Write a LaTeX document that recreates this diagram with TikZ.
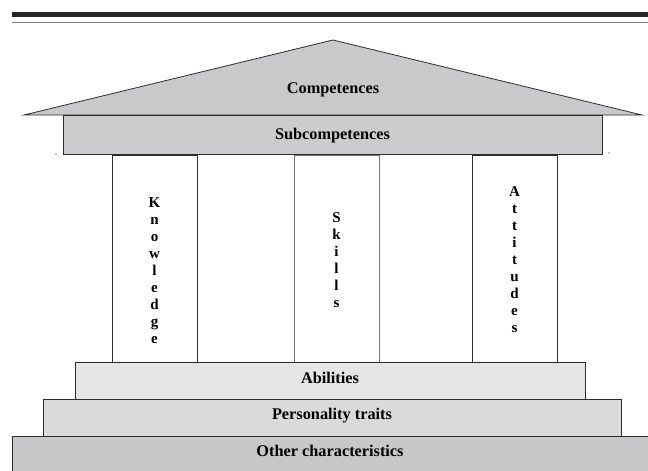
\documentclass[tikz,border=0pt]{standalone}
\usepackage{fontspec}
\setmainfont{Liberation Serif}
\usepackage{xcolor}
\usepackage{tikz}
\usetikzlibrary{positioning}

\definecolor{rooffill}{RGB}{201,201,203}
\definecolor{subfill}{RGB}{204,204,206}
\definecolor{abilfill}{RGB}{229,229,231}
\definecolor{persfill}{RGB}{218,218,220}
\definecolor{otherfill}{RGB}{200,200,203}
\definecolor{edge}{RGB}{45,45,45}

\begin{document}
\begin{tikzpicture}[
  x=1pt, y=-1pt,
  band/.style={rectangle, draw=edge, line width=0.9pt, inner sep=0pt},
  pillar/.style={rectangle, draw=edge, line width=0.8pt, fill=white,
    minimum width=85pt, minimum height=207pt, inner sep=0pt},
  lbl/.style={anchor=base, inner sep=0pt, font=\bfseries\fontsize{16.3}{18}\selectfont},
  letters/.style={anchor=north, align=center, inner sep=0pt,
    font=\bfseries\fontsize{15}{17}\selectfont}
]
\useasboundingbox (0,0) rectangle (648,471);

% rules at the top
\fill[black!85] (12,12) rectangle (660,17);
\fill[black!50] (12,22) rectangle (660,23.3);

% roof
\coordinate (eaveL) at (24,115);
\coordinate (apex) at (333,40);
\coordinate (eaveR) at (642,115);
\draw[edge, line width=0.8pt, fill=rooffill] (eaveL) -- (apex) -- (eaveR) -- cycle;
\node [lbl] (comp) at (333,93.5) {Competences};

\node [band, fill=subfill, minimum width=539pt, minimum height=39pt] (sub) at (332.5,134.5) {};
\node [lbl] (subtext) at (332.5,139.5) {Subcompetences};

% pillars
\node [pillar] (know) at (154.5,258.5) {};
\node [pillar, draw=black!55] (skill) at (336.5,258.5) {};
\node [pillar] (att) at (514.5,258.5) {};
\node [letters] (knowtext) at (154.5,197) {K\\n\\o\\w\\l\\e\\d\\g\\e};
\node [letters] (skilltext) at (336.5,212) {S\\k\\i\\l\\l\\s};
\node [letters] (atttext) at (514.5,186) {A\\t\\t\\i\\t\\u\\d\\e\\s};

% steps
\node [band, fill=abilfill, minimum width=510pt, minimum height=37pt] (abil) at (330,380.5) {};
\node [lbl] (abiltext) at (330,383) {Abilities};
\node [band, fill=persfill, minimum width=578pt, minimum height=37pt] (pers) at (332,417.5) {};
\node [lbl] (perstext) at (332,419) {Personality traits};
\node [band, fill=otherfill, minimum width=650pt, minimum height=44pt] (other) at (337,458) {};
\node [lbl] (othertext) at (330,456) {Other characteristics};

\fill (56,154) circle (0.7);
\fill (609,153) circle (0.7);
\end{tikzpicture}
\end{document}
